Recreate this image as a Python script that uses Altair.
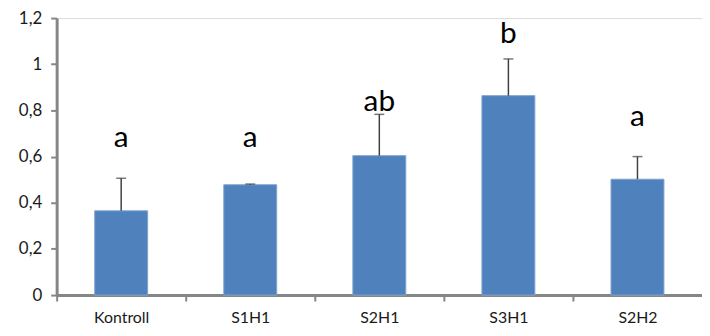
import altair as alt
import pandas as pd

categories = ["Kontroll", "S1H1", "S2H1", "S3H1", "S2H2"]
means = [0.365, 0.478, 0.604, 0.864, 0.502]
err_top = [0.506, 0.481, 0.783, 1.023, 0.600]
letters = ["a", "a", "ab", "b", "a"]
letter_y = [0.68, 0.68, 0.835, 1.13, 0.77]
y_ticks = [0, 0.2, 0.4, 0.6, 0.8, 1.0, 1.2]

df = pd.DataFrame({
    "cat": categories,
    "mean": means,
    "top": err_top,
    "letter": letters,
    "ly": letter_y,
})

FONT = "Lato"
AXIS_GRAY = "#868686"

x = alt.X(
    "cat:N",
    sort=categories,
    title=None,
    scale=alt.Scale(paddingInner=0.59, paddingOuter=0.295),
    axis=alt.Axis(
        labelAngle=0,
        labelFont=FONT,
        labelFontSize=16,
        labelColor="#1a1a1a",
        labelPadding=9,
        domainColor=AXIS_GRAY,
        domainWidth=3,
        tickColor=AXIS_GRAY,
        tickWidth=2,
        tickSize=6,
        bandPosition=0.5,
        tickOffset=-65,
        labelOffset=65,
    ),
)

y_scale = alt.Scale(domain=[0, 1.2], nice=False, zero=True)

bars = alt.Chart(df).mark_bar(color="#4F81BD", stroke="#7FA3CF", strokeWidth=1).encode(
    x=x,
    y=alt.Y(
        "mean:Q",
        scale=y_scale,
        title=None,
        axis=alt.Axis(
            values=y_ticks,
            format=".1~f",
            labelExpr="replace(datum.label, '.', ',')",
            labelFont=FONT,
            labelFontSize=17,
            labelColor="#1a1a1a",
            labelPadding=9,
            grid=False,
            domainColor=AXIS_GRAY,
            domainWidth=3,
            tickColor=AXIS_GRAY,
            tickWidth=2,
            tickSize=6,
        ),
    ),
)

err = alt.Chart(df).mark_rule(color="#404040", strokeWidth=1.5).encode(
    x=alt.X("cat:N", sort=categories),
    y=alt.Y("mean:Q", scale=y_scale),
    y2="top:Q",
)

caps = alt.Chart(df).mark_tick(color="#404040", thickness=1.5, size=10).encode(
    x=alt.X("cat:N", sort=categories),
    y=alt.Y("top:Q", scale=y_scale),
)

text = alt.Chart(df).mark_text(
    font=FONT, fontSize=30, color="#000000", baseline="middle", align="center"
).encode(
    x=alt.X("cat:N", sort=categories),
    y=alt.Y("ly:Q", scale=y_scale),
    text="letter:N",
)

chart = (
    alt.layer(bars, err, caps, text)
    .properties(
        width=650,
        height=279,
        autosize=alt.AutoSizeParams(type="none"),
        padding={"left": 49, "top": 9, "right": 0, "bottom": 32},
    )
    .configure_view(stroke=None)
    .configure(background="white")
)

chart.save("out.html", embed_options={"renderer": "svg", "actions": False})
